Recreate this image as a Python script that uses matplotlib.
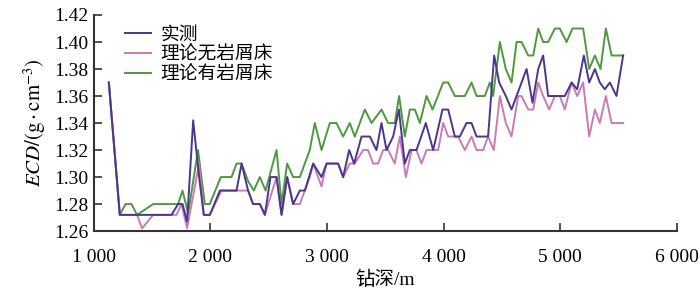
import numpy as np
import matplotlib
matplotlib.use("Agg")
import matplotlib.pyplot as plt
from matplotlib.ticker import FixedLocator

plt.rcParams['font.family'] = ['Liberation Serif', 'Noto Sans CJK SC']
plt.rcParams['mathtext.fontset'] = 'stix'

# measured ECD
depth_meas = [1129, 1223, 1371, 1509, 1666, 1723, 1761, 1800, 1852, 1903, 1943, 1995,
              2081, 2224, 2267, 2323, 2366, 2424, 2467, 2515, 2567, 2610, 2658, 2709,
              2767, 2810, 2881, 2953, 2996, 3095, 3138, 3190, 3232, 3296, 3367, 3424,
              3467, 3510, 3567, 3616, 3667, 3710, 3767, 3847, 3910, 3990, 4039, 4096,
              4139, 4196, 4239, 4282, 4381, 4433, 4476, 4533, 4582, 4625, 4668, 4711,
              4762, 4811, 4853, 4896, 5039, 5097, 5145, 5202, 5248, 5297, 5339, 5382,
              5425, 5482, 5539]
ecd_meas = [1.37, 1.272, 1.272, 1.272, 1.272, 1.28, 1.28, 1.267, 1.342, 1.30, 1.272, 1.272,
            1.29, 1.29, 1.31, 1.29, 1.28, 1.28, 1.272, 1.30, 1.30, 1.272, 1.30, 1.28,
            1.29, 1.29, 1.31, 1.30, 1.31, 1.31, 1.30, 1.32, 1.31, 1.33, 1.33, 1.32,
            1.34, 1.32, 1.33, 1.35, 1.31, 1.32, 1.32, 1.34, 1.32, 1.35, 1.35, 1.33,
            1.33, 1.34, 1.34, 1.33, 1.33, 1.39, 1.37, 1.36, 1.35, 1.36, 1.37, 1.38,
            1.355, 1.38, 1.39, 1.36, 1.36, 1.37, 1.365, 1.39, 1.37, 1.38, 1.37, 1.365,
            1.37, 1.36, 1.39]

# theory, no cuttings bed
depth_nobed = [1129, 1223, 1371, 1414, 1509, 1709, 1752, 1800, 1903, 1943, 1995, 2095,
               2323, 2366, 2424, 2467, 2567, 2610, 2658, 2709, 2767, 2852, 2881, 2953,
               2996, 3095, 3138, 3195, 3238, 3310, 3352, 3395, 3438, 3481, 3524, 3581,
               3624, 3676, 3725, 3767, 3810, 3853, 3953, 3996, 4039, 4124, 4182, 4239,
               4282, 4339, 4381, 4430, 4482, 4533, 4582, 4639, 4668, 4725, 4768, 4811,
               4853, 4905, 4954, 4996, 5039, 5097, 5145, 5196, 5248, 5297, 5339, 5391,
               5440, 5539]
ecd_nobed = [1.37, 1.272, 1.272, 1.262, 1.272, 1.272, 1.28, 1.262, 1.31, 1.272, 1.272, 1.29,
             1.29, 1.28, 1.28, 1.272, 1.30, 1.272, 1.30, 1.28, 1.28, 1.30, 1.31, 1.293,
             1.31, 1.31, 1.30, 1.31, 1.31, 1.32, 1.32, 1.31, 1.31, 1.32, 1.32, 1.31,
             1.33, 1.30, 1.32, 1.32, 1.31, 1.32, 1.32, 1.34, 1.33, 1.33, 1.32, 1.33,
             1.32, 1.32, 1.33, 1.32, 1.36, 1.34, 1.33, 1.36, 1.36, 1.35, 1.35, 1.37,
             1.36, 1.35, 1.36, 1.36, 1.35, 1.37, 1.36, 1.37, 1.33, 1.35, 1.34, 1.36,
             1.34, 1.34]

# theory, with cuttings bed
depth_bed = [1129, 1223, 1272, 1323, 1371, 1509, 1723, 1761, 1809, 1894, 1952, 1995,
             2089, 2181, 2224, 2267, 2323, 2372, 2424, 2473, 2567, 2610, 2658, 2709,
             2767, 2852, 2895, 2953, 3024, 3081, 3138, 3195, 3238, 3324, 3382, 3467,
             3524, 3581, 3618, 3667, 3710, 3753, 3796, 3853, 3905, 3996, 4039, 4096,
             4182, 4239, 4282, 4353, 4396, 4424, 4482, 4533, 4582, 4625, 4668, 4725,
             4768, 4811, 4853, 4896, 4954, 4996, 5054, 5105, 5196, 5248, 5297, 5345,
             5391, 5440, 5539]
ecd_bed = [1.37, 1.272, 1.28, 1.28, 1.272, 1.28, 1.28, 1.29, 1.273, 1.32, 1.28, 1.28,
           1.30, 1.30, 1.31, 1.31, 1.297, 1.29, 1.30, 1.29, 1.32, 1.28, 1.31, 1.30,
           1.30, 1.32, 1.34, 1.32, 1.34, 1.34, 1.33, 1.34, 1.33, 1.35, 1.34, 1.35,
           1.34, 1.34, 1.36, 1.33, 1.35, 1.35, 1.34, 1.36, 1.35, 1.37, 1.37, 1.36,
           1.36, 1.37, 1.36, 1.36, 1.37, 1.36, 1.40, 1.38, 1.37, 1.40, 1.40, 1.39,
           1.39, 1.41, 1.40, 1.40, 1.41, 1.41, 1.40, 1.41, 1.41, 1.38, 1.39, 1.38,
           1.41, 1.39, 1.39]

labels = ['实测', '理论无岩屑床', '理论有岩屑床']
colors = ['#4a3690', '#cc7ab2', '#4d9a3d']

x_ticks = [1000, 2000, 3000, 4000, 5000, 6000]
x_tick_labels = ['1 000', '2 000', '3 000', '4 000', '5 000', '6 000']
y_ticks = [1.26, 1.28, 1.30, 1.32, 1.34, 1.36, 1.38, 1.40, 1.42]

fig = plt.figure(figsize=(7, 2.94), dpi=100)
ax = fig.add_axes([0.134, 0.214, 0.833, 0.735])

ax.plot(depth_meas, ecd_meas, color=colors[0], lw=1.4, label=labels[0], zorder=3)
ax.plot(depth_nobed, ecd_nobed, color=colors[1], lw=1.4, label=labels[1], zorder=2)
ax.plot(depth_bed, ecd_bed, color=colors[2], lw=1.4, label=labels[2], zorder=1)

ax.set_xlim(1000, 6000)
ax.set_ylim(1.26, 1.42)
ax.xaxis.set_major_locator(FixedLocator(x_ticks))
ax.set_xticklabels(x_tick_labels)
ax.set_yticks(y_ticks)
ax.set_yticklabels([f'{v:.2f}' for v in y_ticks])

for s in ['top', 'right']:
    ax.spines[s].set_visible(False)
for s in ['left', 'bottom']:
    ax.spines[s].set_linewidth(1.5)
    ax.spines[s].set_color('#333333')
ax.tick_params(direction='in', length=6, width=1.2, color='#333333',
               labelsize=14, pad=4)
ax.tick_params(axis='x', pad=13)

ax.set_xlabel('钻深/m', fontsize=14, labelpad=3)
ax.set_ylabel(r'$\mathit{ECD}/(\mathrm{g}\cdot\mathrm{cm}^{-3})$', fontsize=15, labelpad=4)

leg = ax.legend(loc='upper left', bbox_to_anchor=(0.053, 0.945), frameon=False,
                fontsize=13.5, handlelength=1.4, handletextpad=0.5,
                labelspacing=0.14, borderaxespad=0, borderpad=0)

fig.savefig('out.png', dpi=100)
